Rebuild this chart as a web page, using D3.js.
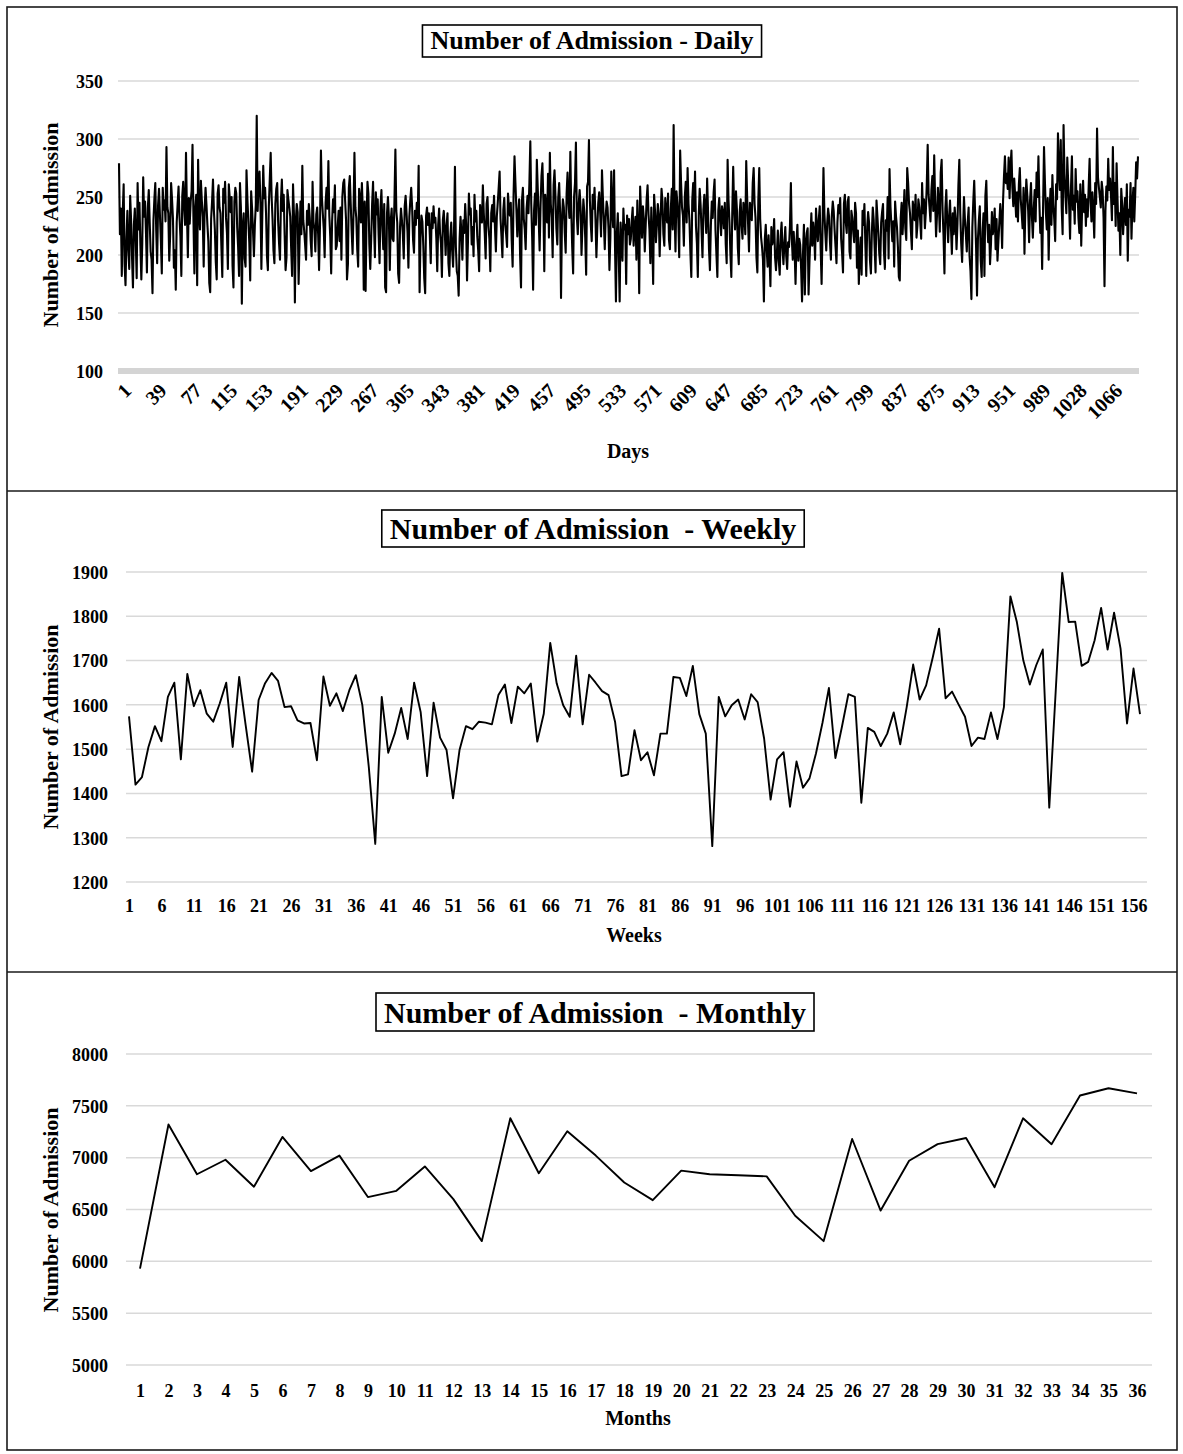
<!DOCTYPE html>
<html><head><meta charset="utf-8">
<script src="https://cdn.jsdelivr.net/npm/d3@7"></script>
<style>body{margin:0;background:#fff}svg{display:block}text{font-family:"Liberation Serif","Times New Roman",serif;font-weight:bold;fill:#000}</style>
</head><body><svg id="c" width="1183" height="1454"></svg>
<script>
// ---------- DATA ----------
const dailyValues = [
279,218,240,182,236,261,192,174,214,238, 205,188,251,230,198,172,226,240,213,180,
262,222,245,208,179,210,267,233,246,219, 185,241,256,228,203,196,167,230,248,262,
221,193,243,257,234,212,184,258,239,247, 229,293,241,236,195,218,262,248,231,189,
204,170,228,244,259,233,216,182,251,263, 240,226,288,237,198,249,227,246,255,295,
232,184,241,252,174,282,238,222,264,247, 233,190,239,258,243,226,212,176,168,231,
246,265,238,222,194,179,253,260,241,236, 208,181,257,245,263,232,219,188,261,249,
237,250,191,172,246,258,253,224,207,182, 262,241,158,225,236,197,190,273,248,229,
211,178,255,240,221,199,226,243,320,238, 262,272,245,188,234,277,249,258,236,199,
187,242,265,288,250,231,204,193,244,257, 262,229,210,196,246,265,238,252,217,187,
198,256,248,241,233,206,182,261,235,159, 229,244,237,175,211,246,218,277,230,221,
209,196,238,226,244,232,212,199,263,229, 221,203,235,241,218,187,226,290,250,236,
223,198,245,258,240,281,234,216,184,229, 248,237,260,205,208,225,238,212,241,196,
250,262,265,247,230,179,192,258,268,244, 221,201,236,288,241,232,205,190,257,249,
228,262,238,170,246,169,231,263,253,209, 188,214,244,263,226,198,254,235,248,217,
193,241,256,225,205,244,172,168,236,250, 233,187,229,240,214,212,247,291,238,228,
184,176,224,240,230,218,197,242,251,236, 220,189,233,247,258,241,213,202,238,226,
245,232,277,168,215,234,229,208,180,167, 234,241,226,236,217,193,236,223,242,228,
232,214,186,226,240,219,210,181,230,238, 222,200,225,236,193,182,215,228,204,190,
220,276,207,186,182,165,214,233,218,196, 230,219,244,227,178,212,253,235,240,209,
224,199,252,229,238,216,204,186,243,232, 228,260,236,219,197,244,250,225,214,186,
236,243,229,251,224,203,233,245,258,272, 231,216,198,239,249,226,218,207,253,241,
234,245,212,190,252,285,262,240,216,235, 248,200,172,247,258,231,222,205,240,251,
236,262,298,244,215,170,238,253,226,282, 257,231,204,243,268,279,247,186,252,239,
228,270,215,288,244,232,198,260,273,251, 223,209,249,262,237,163,229,248,241,219,
202,253,271,246,232,289,238,207,184,250, 262,297,233,218,244,256,241,200,225,248,
237,215,183,259,263,299,247,226,212,252, 240,258,231,198,224,245,254,238,216,273,
249,229,205,233,246,241,223,187,215,272, 238,224,273,207,160,219,236,201,160,228,
211,195,240,222,226,175,234,218,231,209, 214,230,241,208,224,233,196,247,222,167,
259,236,215,242,231,203,226,248,260,235, 222,193,241,214,175,252,238,211,226,244,
234,199,232,257,246,218,208,249,237,228, 253,213,205,240,257,222,312,238,203,255,
245,231,198,290,262,241,234,208,250,263, 228,275,244,230,202,181,247,262,238,272,
225,210,181,234,257,243,221,198,239,252, 240,219,266,237,205,187,225,246,232,254,
265,221,200,181,238,249,231,217,242,236, 223,245,209,193,282,247,228,201,181,236,
276,240,222,255,239,206,192,237,248,226, 214,245,236,218,281,250,227,203,245,238,
230,262,275,244,232,198,185,247,275,231, 215,207,196,160,214,226,205,190,217,199,
173,224,209,213,231,198,187,202,221,195, 183,216,228,206,192,210,224,199,188,211,
207,225,262,214,196,220,204,175,211,226, 195,214,209,188,160,201,226,166,210,219,
223,166,195,215,236,208,228,218,196,240, 224,212,231,242,205,175,222,275,236,219,
204,227,240,233,211,196,234,246,238,221, 207,193,228,243,236,249,214,202,185,244,
252,228,219,246,250,203,197,238,232,220, 211,245,236,189,221,175,199,215,183,238,
226,244,210,182,224,237,228,195,184,219, 241,230,206,185,247,233,218,201,192,228,
237,244,203,188,230,221,250,197,274,242, 226,212,229,190,246,233,224,207,181,178,
232,245,218,235,256,223,213,275,262,244, 236,220,205,246,239,230,252,215,226,248,
241,229,214,262,236,248,223,237,260,295, 252,241,229,256,268,238,286,247,216,234,
258,244,220,271,282,239,217,184,240,256, 229,211,233,247,224,201,236,218,241,230,
205,227,260,282,236,210,194,222,250,231, 218,203,228,241,199,186,162,224,246,264,
235,207,165,214,230,242,195,181,220,236, 182,251,264,229,211,226,192,209,237,218,
224,240,205,231,195,212,228,244,233,206, 247,268,285,262,270,257,284,249,276,290,
258,242,266,251,233,254,229,261,275,248, 236,223,258,201,244,265,252,238,211,247,
262,233,215,240,256,229,271,250,285,246, 219,232,188,241,293,263,237,222,249,196,
238,257,226,269,244,231,212,261,248,305, 273,256,299,241,218,312,270,251,236,284,
262,243,214,258,285,239,251,227,274,246, 255,232,219,261,208,243,264,237,252,225,
248,233,259,283,246,229,254,238,215,262, 244,309,267,258,250,241,263,255,232,173,
238,259,247,283,256,266,251,230,293,244, 262,225,279,248,221,236,200,257,243,218,
235,249,226,261,195,239,233,262,214,244, 258,229,252,280,266,285
];
const dailyTickLabels = [1,39,77,115,153,191,229,267,305,343,381,419,457,495,533,571,609,647,685,723,761,799,837,875,913,951,989,1028,1066];
const dailyYTicks = [100,150,200,250,300,350];

const weeklyValues = [
1574,1420,1437,1505,1552,1518,1618,1650,1477,1670,1597,1633,1580,1562,1603,1650,1505,1663,1554,1449,
1611,1649,1672,1654,1595,1597,1565,1558,1559,1475,1664,1598,1626,1586,1633,1667,1600,1460,1286,1618,
1492,1535,1593,1523,1650,1584,1439,1605,1526,1498,1389,1498,1552,1545,1562,1560,1556,1622,1646,1559,
1641,1626,1648,1517,1580,1740,1648,1599,1573,1711,1556,1668,1650,1631,1622,1562,1439,1443,1543,1475,
1493,1441,1535,1535,1663,1661,1620,1688,1579,1535,1281,1618,1574,1599,1612,1567,1624,1606,1524,1386,
1477,1493,1370,1472,1413,1434,1490,1559,1638,1480,1550,1624,1618,1379,1548,1539,1507,1535,1583,1511,
1595,1691,1612,1644,1706,1772,1615,1630,1601,1573,1507,1526,1523,1583,1523,1595,1845,1787,1700,1646,
1690,1725,1368,1633,1898,1787,1788,1688,1697,1746,1819,1725,1808,1727,1558,1682,1579
];
const weeklyTickLabels = d3.range(1, 157, 5);
const weeklyYTicks = [1200,1300,1400,1500,1600,1700,1800,1900];

const monthlyValues = [
5930,7320,6840,6980,6720,7200,6870,7020,6620,6680,6915,6600,6195,7380,6850,7255,7020,6760,
6590,6875,6840,6830,6820,6440,6195,7180,6490,6970,7130,7190,6715,7380,7130,7600,7670,7620
];
const monthlyTickLabels = d3.range(1, 37);
const monthlyYTicks = [5000,5500,6000,6500,7000,7500,8000];

// ---------- DRAW ----------
const svg = d3.select("#c");
const frameColor = "#1a1a1a";
svg.append("rect").attr("x",7).attr("y",7).attr("width",1170).attr("height",1443)
  .attr("fill","none").attr("stroke",frameColor).attr("stroke-width",1.6);
[491, 972].forEach(y => svg.append("line").attr("x1",7).attr("x2",1177).attr("y1",y).attr("y2",y)
  .attr("stroke",frameColor).attr("stroke-width",1.6));

function panel(cfg){
  const g = svg.append("g");
  const x = d3.scaleLinear().domain([1, cfg.values.length]).range(cfg.xRange);
  const y = d3.scaleLinear().domain(cfg.yDomain).range(cfg.yRange);
  // gridlines
  g.selectAll(".grid").data(cfg.yTicks).enter().append("line")
    .attr("x1", cfg.gridX[0]).attr("x2", cfg.gridX[1])
    .attr("y1", d => y(d)).attr("y2", d => y(d))
    .attr("stroke", d => (cfg.thickBase && d === cfg.yDomain[0]) ? "#d4d4d4" : "#d9d9d9")
    .attr("stroke-width", d => (cfg.thickBase && d === cfg.yDomain[0]) ? 6 : 1.5);
  // y tick labels via axis
  const yAxis = d3.axisLeft(y).tickValues(cfg.yTicks).tickSize(0).tickPadding(0).tickFormat(d3.format("d"));
  const ya = g.append("g").attr("transform", `translate(${cfg.yLabelX},0)`).call(yAxis);
  ya.select(".domain").remove();
  ya.selectAll("text").attr("font-size", cfg.yFont).attr("dy","0.35em")
    .style("font-family",'"Liberation Serif",serif').style("font-weight","bold").attr("fill","#000");
  // x tick labels
  const xa = d3.axisBottom(x).tickValues(cfg.xTicks).tickSize(0).tickPadding(0).tickFormat(d3.format("d"));
  const xg = g.append("g").attr("transform", `translate(0,${cfg.xLabelY})`).call(xa);
  xg.select(".domain").remove();
  xg.selectAll("text").attr("font-size", cfg.xFont)
    .style("font-family",'"Liberation Serif",serif').style("font-weight","bold").attr("fill","#000");
  if (cfg.rotate){
    xg.selectAll("text").attr("y",0).attr("dy","0.35em").attr("text-anchor","end")
      .attr("transform","translate(8,9) rotate(-45)");
  } else {
    xg.selectAll("text").attr("y",0).attr("dy","0.35em");
  }
  // line
  const line = d3.line().x((d,i)=>x(i+1)).y(d=>y(d));
  g.append("path").datum(cfg.values).attr("d", line).attr("fill","none")
    .attr("stroke","#000").attr("stroke-width", cfg.lineW).attr("stroke-linejoin","round");
  // titles
  g.append("text").attr("x", cfg.xTitle[0]).attr("y", cfg.xTitle[1]).attr("text-anchor","middle")
    .attr("font-size", 20).text(cfg.xTitleText);
  g.append("text").attr("transform", `translate(${cfg.yTitle[0]},${cfg.yTitle[1]}) rotate(-90)`)
    .attr("text-anchor","middle").attr("dy","0.35em").attr("font-size", 22).text("Number of Admission");
  const tt = g.append("text").attr("x", cfg.title[0]).attr("y", cfg.title[1]).attr("text-anchor","middle")
    .attr("dy","0.35em").attr("font-size", cfg.titleFont).style("white-space","pre").text(cfg.titleText);
  const bb = tt.node().getBBox();
  g.insert("rect", () => tt.node()).attr("x", bb.x - 8).attr("y", cfg.box[0]).attr("width", bb.width + 16)
    .attr("height", cfg.box[1]-cfg.box[0]).attr("fill","#fff").attr("stroke","#000").attr("stroke-width",1.6);
}

panel({values: dailyValues, xRange:[119,1138], yDomain:[100,350], yRange:[371,81], gridX:[118,1139],
  yTicks: dailyYTicks, yLabelX:103, yFont:18, xTicks: dailyTickLabels, xLabelY:378, xFont:20, rotate:true,
  lineW:2.1, thickBase:true, xTitle:[628,458], xTitleText:"Days", yTitle:[50,225],
  title:[592,40], titleFont:26, titleText:"Number of Admission - Daily", box:[25,57]});

panel({values: weeklyValues, xRange:[129,1140], yDomain:[1200,1900], yRange:[882,572], gridX:[126,1147],
  yTicks: weeklyYTicks, yLabelX:108, yFont:18, xTicks: weeklyTickLabels, xLabelY:906, xFont:18, rotate:false,
  lineW:1.9, thickBase:false, xTitle:[634,942], xTitleText:"Weeks", yTitle:[50,727],
  title:[593,528], titleFont:30, titleText:"Number of Admission  - Weekly", box:[510,547]});

panel({values: monthlyValues, xRange:[140,1137], yDomain:[5000,8000], yRange:[1365,1054], gridX:[126,1152],
  yTicks: monthlyYTicks, yLabelX:108, yFont:18, xTicks: monthlyTickLabels, xLabelY:1391, xFont:18, rotate:false,
  lineW:1.9, thickBase:false, xTitle:[638,1425], xTitleText:"Months", yTitle:[50,1210],
  title:[595,1012], titleFont:30, titleText:"Number of Admission  - Monthly", box:[993,1031]});
</script></body></html>
